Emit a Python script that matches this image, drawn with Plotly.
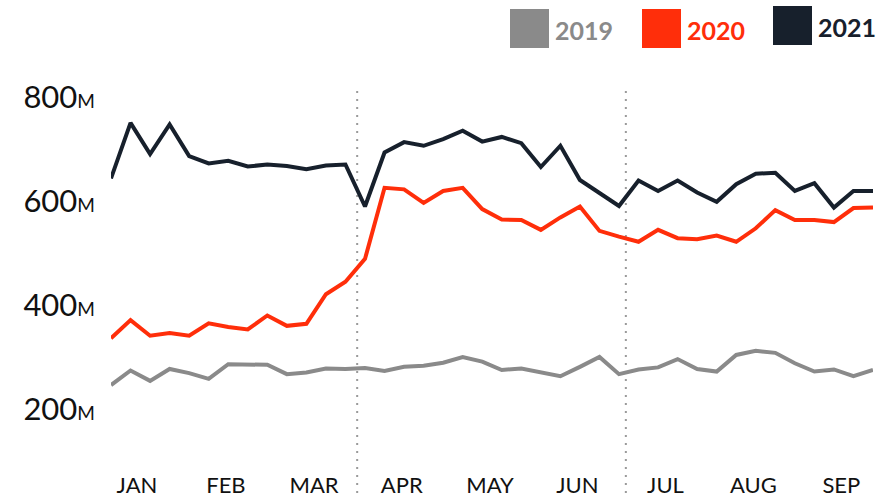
import plotly.graph_objects as go

# ---------------- data (millions, weekly) ----------------
weeks = list(range(40))
v2019 = [246, 274, 254, 277, 269, 258, 286, 285, 285, 267,
         270, 278, 277, 279, 273, 281, 283, 289, 300, 291,
         275, 278, 270, 263, 281, 300, 267, 276, 280, 296,
         277, 272, 304, 312, 308, 288, 272, 276, 263, 275]
v2020 = [336, 371, 341, 346, 341, 365, 358, 353, 380, 360,
         364, 421, 445, 489, 626, 623, 597, 620, 626, 585,
         565, 564, 545, 569, 590, 543, 532, 522, 545, 529,
         527, 534, 522, 548, 583, 564, 564, 560, 587, 588]
v2021 = [644, 751, 691, 748, 687, 673, 678, 667, 671, 668,
         662, 669, 671, 590, 694, 714, 707, 720, 736, 715,
         724, 712, 666, 707, 641, 617, 591, 640, 620, 640,
         617, 599, 633, 653, 655, 620, 635, 588, 620, 620]

series_names = ["2019", "2020", "2021"]
series_colors = ["#8a8a8a", "#ff2e0a", "#17202c"]

month_labels = ["JAN", "FEB", "MAR", "APR", "MAY", "JUN", "JUL", "AUG", "SEP"]
month_pos = [1.33, 5.88, 10.39, 14.88, 19.40, 23.87, 28.38, 32.88, 37.38]
y_ticks = [200, 400, 600, 800]
quarter_breaks = [12.6, 26.35]

FONT = "Lato"

# ---------------- layout geometry (pixels) ----------------
W, H = 879, 497
L, R, T, B = 111, 873, 89, 470


def px_x(px):
    return (px - L) / (R - L)


def px_y(py):
    return (B - py) / (B - T)


fig = go.Figure()
for name, vals, col in zip(series_names, [v2019, v2020, v2021], series_colors):
    fig.add_trace(go.Scatter(x=weeks, y=vals, mode="lines", name=name,
                             line=dict(color=col, width=4),
                             showlegend=False, hoverinfo="skip", cliponaxis=False))

shapes = []
for qb in quarter_breaks:
    shapes.append(dict(type="line", xref="x", yref="paper", x0=qb, x1=qb,
                       y0=px_y(493), y1=px_y(89),
                       line=dict(color="#9a9a9a", width=2, dash="2px,6px"),
                       layer="below"))

annotations = []
leg_boxes = [(510, 9), (642, 9), (773, 6)]
for (bx, by), name, col in zip(leg_boxes, series_names, series_colors):
    shapes.append(dict(type="rect", xref="paper", yref="paper",
                       x0=px_x(bx), x1=px_x(bx + 39), y0=px_y(by + 39), y1=px_y(by),
                       fillcolor=col, line=dict(width=0)))
    annotations.append(dict(xref="paper", yref="paper", x=px_x(bx + 44), y=px_y(by + 21),
                            xanchor="left", yanchor="middle", showarrow=False,
                            borderpad=0,
                            text="<b>%s</b>" % name,
                            font=dict(family=FONT, size=25, color=col)))

fig.update_layout(
    width=W, height=H,
    margin=dict(l=L, r=W - R, t=T, b=H - B, pad=0, autoexpand=False),
    paper_bgcolor="white", plot_bgcolor="white",
    xaxis=dict(range=[0, 39], showgrid=False, zeroline=False, showline=False,
               tickmode="array", tickvals=month_pos, ticktext=month_labels,
               ticks="", tickfont=dict(family=FONT, size=22, color="#111111"),
               automargin=False, fixedrange=True),
    yaxis=dict(range=[800 - (B - 97.5) / 0.519, 800 + (97.5 - T) / 0.519],
               showgrid=False, zeroline=False, showline=False,
               tickmode="array", tickvals=y_ticks,
               ticktext=["%d<span style='font-size:19px'>M</span>" % v for v in y_ticks],
               ticks="", ticklabelstandoff=15,
               tickfont=dict(family=FONT, size=31, color="#111111"),
               automargin=False, fixedrange=True),
    shapes=shapes, annotations=annotations,
    showlegend=False,
)

fig.write_html("out.html", config={"displayModeBar": False},
               post_script="document.body.style.margin='0';document.body.style.overflow='hidden';")
